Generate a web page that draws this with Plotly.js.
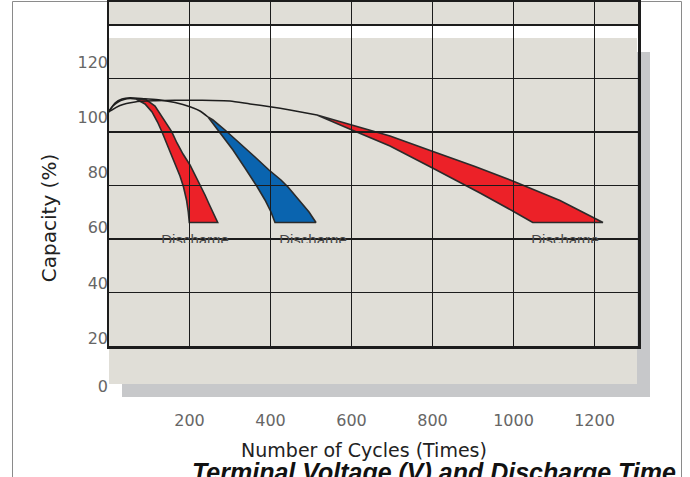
<!DOCTYPE html>
<html><head><meta charset="utf-8">
<script src="https://cdn.plot.ly/plotly-3.0.1.min.js"></script>
<style>html,body{margin:0;padding:0;background:#fff}#chart{width:690px;height:477px}</style>
</head><body><div id="chart"></div>
<script>
// ---- tick labels ----
const xTickVals = [200, 400, 600, 800, 1000, 1200];
const xTickText = ['200', '400', '600', '800', '1000', '1200'];
const yTickVals = [2.7, 20, 40, 60, 80, 100, 120];
const yTickText = ['0', '20', '40', '60', '80', '100', '120'];

// ---- lead-in curves (cycles, capacity %) ----
const shortLineCycles = [0, 11.1, 23.5, 38.3, 53.1, 67.9];
const shortLineCap    = [102.0, 104.17, 105.62, 106.52, 106.88, 106.70];

const midLineCycles = [0, 16.0, 33.3, 53.1, 90.1, 127.2, 164.2, 201.2, 225.9, 245.7];
const midLineCap    = [102.0, 105.25, 106.70, 107.17, 106.77, 106.34, 105.43, 103.91, 102.36, 100.18];

const longLineCycles = [0, 28.4, 65.4, 114.8, 164.2, 225.9, 300.0, 349.4, 398.8, 448.1, 514.8];
const longLineCap    = [102.0, 104.35, 105.62, 106.05, 106.23, 106.23, 105.98, 104.89, 103.91, 102.72, 100.91];

// ---- bands: edge A and edge B, each listed top -> bottom ----
const shortBandACycles = [67.9, 90.1, 107.4, 121.0, 132.1, 143.2, 154.3, 165.4, 176.5, 185.2, 192.6, 197.0, 199.5];
const shortBandACap    = [106.70, 104.89, 102.0, 98.37, 94.75, 90.76, 86.77, 82.79, 78.80, 74.82, 70.11, 65.76, 61.96];
const shortBandBCycles = [92.6, 114.8, 132.1, 146.9, 156.0, 169.1, 184.0, 201.2, 216.0, 228.4, 238.3, 249.4, 259.3, 269.6];
const shortBandBCap    = [106.52, 104.17, 100.54, 96.92, 94.86, 90.76, 86.77, 82.79, 78.80, 74.82, 71.92, 68.30, 65.03, 61.96];

const midBandACycles = [245.7, 270.4, 307.4, 337.0, 357.5, 367.4, 386.4, 401.2, 411.1];
const midBandACap    = [100.18, 95.47, 88.22, 81.70, 77.36, 74.82, 70.11, 65.76, 61.96];
const midBandBCycles = [258.0, 287.7, 324.7, 361.7, 396.3, 425.9, 443.2, 470.4, 495.1, 512.3];
const midBandBCap    = [99.09, 95.47, 90.76, 85.69, 80.98, 77.36, 74.82, 70.11, 65.76, 61.96];

const longBandACycles = [514.8, 584.0, 695.1, 801.2, 904.9, 1001.2, 1114.8, 1220.9];
const longBandACap    = [100.91, 98.01, 93.30, 87.68, 82.25, 76.81, 69.93, 61.96];
const longBandBCycles = [514.8, 559.3, 601.2, 695.1, 801.2, 917.3, 1001.2, 1047.4];
const longBandBCap    = [100.91, 98.19, 95.47, 89.67, 81.59, 72.64, 65.87, 61.96];

// ---- labels under the bands ----
const dischargeLabels = ['Discharge', 'Discharge', 'Discharge'];
const labelCycles = [213.6, 504.9, 1127.2];
const labelCap = [55.1, 55.1, 55.1];

function polygon(ax, ay, bx, by) {
  return {x: ax.concat(bx.slice().reverse(), [ax[0]]), y: ay.concat(by.slice().reverse(), [ay[0]])};
}
const RED = '#EC2128', BLUE = '#0A64AF', EDGE = '#2b2b2b';
function band(ax, ay, bx, by, color) {
  const p = polygon(ax, ay, bx, by);
  return {type: 'scatter', mode: 'lines', x: p.x, y: p.y, fill: 'toself', fillcolor: color,
          line: {color: EDGE, width: 1.6}, xaxis: 'x', yaxis: 'y', hoverinfo: 'skip'};
}
function lead(x, y) {
  return {type: 'scatter', mode: 'lines', x, y, line: {color: '#1e1e1e', width: 1.5, shape: 'spline', smoothing: 0.6},
          xaxis: 'x', yaxis: 'y', hoverinfo: 'skip'};
}

const data = [
  band(shortBandACycles, shortBandACap, shortBandBCycles, shortBandBCap, RED),
  band(midBandACycles, midBandACap, midBandBCycles, midBandBCap, BLUE),
  band(longBandACycles, longBandACap, longBandBCycles, longBandBCap, RED),
  lead(shortLineCycles, shortLineCap),
  lead(midLineCycles, midLineCap),
  lead(longLineCycles, longLineCap),
  {type: 'scatter', mode: 'markers', x: [null], y: [null], xaxis: 'x2', yaxis: 'y2', hoverinfo: 'skip'},
  {type: 'scatter', mode: 'text', x: labelCycles, y: labelCap, text: dischargeLabels,
   textposition: 'middle center', cliponaxis: true,
   textfont: {family: 'Liberation Sans, Arial, sans-serif', size: 15, color: '#4a4a4a'},
   xaxis: 'x3', yaxis: 'y3', hoverinfo: 'skip'}
];

const BEIGE = '#E0DED7', SHADOW = '#C7C8CA';
const layout = {
  width: 690, height: 477,
  margin: {l: 109, r: 40, t: 2, b: 80, pad: 0},
  paper_bgcolor: '#ffffff', plot_bgcolor: 'rgba(0,0,0,0)',
  showlegend: false, hovermode: false, dragmode: false,
  font: {family: 'DejaVu Sans, sans-serif', color: '#222'},
  xaxis: {domain: [0, 0.9427], range: [1.23, 1260.5], anchor: 'y',
          tickvals: xTickVals, ticktext: xTickText, ticks: '', showgrid: false, zeroline: false, showline: false,
          tickfont: {size: 16, color: '#666'}, ticklabelstandoff: 12,
          title: {text: 'Number of Cycles (Times)', font: {size: 19, color: '#222'}, standoff: 14}},
  yaxis: {domain: [0, 0.90633], range: [-1.27, 128.44], anchor: 'x',
          tickvals: yTickVals, ticktext: yTickText, ticks: '', showgrid: false, zeroline: false, showline: false,
          tickfont: {size: 16, color: '#666'},
          title: {text: 'Capacity (%)', font: {size: 20, color: '#222'}, standoff: 15}},
  xaxis2: {domain: [0, 0.97782], range: [1.23, 1307.4], anchor: 'y2', tick0: 0, dtick: 200,
           showticklabels: false, ticks: '', showgrid: true, gridcolor: '#1c1c1c', gridwidth: 1.5,
           zeroline: false, showline: true, mirror: true, linecolor: '#1c1c1c', linewidth: 2.5},
  yaxis2: {domain: [0.12911, 1], range: [20, 148.6], anchor: 'x2', tick0: 0, dtick: 20,
           showticklabels: false, ticks: '', showgrid: true, gridcolor: '#1c1c1c', gridwidth: 1.5,
           zeroline: false, showline: true, mirror: true, linecolor: '#1c1c1c', linewidth: 2.5},
  xaxis3: {domain: [0, 0.9427], range: [1.23, 1260.5], anchor: 'y3', visible: false},
  yaxis3: {domain: [0.38987, 0.90633], range: [54.53, 128.44], anchor: 'x3', visible: false},
  shapes: [
    {type: 'rect', xref: 'paper', yref: 'paper', x0: -0.17837, x1: 1.05823, y0: -0.25, y1: 1.00127,
     line: {color: '#8a8a8a', width: 1}, fillcolor: 'rgba(0,0,0,0)', layer: 'below'},
    {type: 'rect', xref: 'paper', yref: 'paper', x0: 0.97597, x1: 1.0, y0: 0, y1: 0.87342,
     line: {width: 0}, fillcolor: SHADOW, layer: 'below'},
    {type: 'rect', xref: 'paper', yref: 'paper', x0: 0.02403, x1: 1.0, y0: 0, y1: 0.03291,
     line: {width: 0}, fillcolor: SHADOW, layer: 'below'},
    {type: 'rect', xref: 'paper', yref: 'paper', x0: 0, x1: 0.97597, y0: 0.03291, y1: 0.90886,
     line: {width: 0}, fillcolor: BEIGE, layer: 'below'},
    {type: 'rect', xref: 'paper', yref: 'paper', x0: 0, x1: 0.97782, y0: 0.94177, y1: 1.0,
     line: {width: 0}, fillcolor: BEIGE, layer: 'below'}
  ],
  annotations: [
    {text: '<b><i>Terminal Voltage (V) and Discharge Time</i></b>', xref: 'paper', yref: 'paper',
     x: 0.1497, y: -0.1494, xanchor: 'left', yanchor: 'top', showarrow: false,
     font: {family: 'Liberation Sans, Arial, sans-serif', size: 25, color: '#111'}}
  ]
};

Plotly.newPlot('chart', data, layout, {staticPlot: true, displayModeBar: false});
</script>
</body></html>
